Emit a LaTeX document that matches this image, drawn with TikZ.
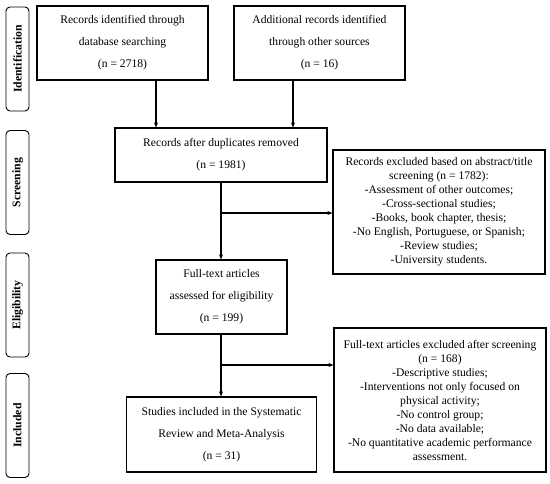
\documentclass[tikz,border=0pt]{standalone}
\usepackage{fontspec}
\setmainfont{Liberation Serif}
\usetikzlibrary{arrows.meta}
\begin{document}
\begin{tikzpicture}[x=1pt,y=-1pt,
  box/.style={draw,line width=1.2pt,align=center,inner sep=2pt,font=\fontsize{11.6}{22}\selectfont},
  exbox/.style={draw,line width=1.2pt,align=center,inner sep=2pt,font=\fontsize{11.6}{14}\selectfont},
  side/.style={draw,line width=0.9pt,rounded corners=4pt,minimum width=104pt,minimum height=23pt,rotate=90,font=\fontsize{11.7}{13}\selectfont\bfseries},
  arr/.style={line width=1.1pt,-{Stealth[length=5pt,width=4pt]}}]
\useasboundingbox (0,0) rectangle (550,484);
% side labels
\node[side] (s1) at (17.5,59) {Identification};
\node[side] (s2) at (17.5,182.5) {Screening};
\node[side] (s3) at (17.5,305) {Eligibility};
\node[side] (s4) at (17.5,425.5) {Included};
% main boxes
\node[box,minimum width=171pt,minimum height=74pt] (b1) at (122.5,43) {Records identified through\\database searching\\(n = 2718)};
\node[box,minimum width=171pt,minimum height=74pt] (b2) at (319.5,43) {Additional records identified\\through other sources\\(n = 16)};
\node[box,minimum width=212pt,minimum height=54pt] (b3) at (221,155) {Records after duplicates removed\\(n = 1981)};
\node[box,minimum width=131pt,minimum height=74pt] (b4) at (221.5,297) {Full-text articles\\assessed for eligibility\\(n = 199)};
\node[box,minimum width=190pt,minimum height=75pt] (b6) at (221.5,434.5) {Studies included in the Systematic\\Review and Meta-Analysis\\(n = 31)};
\node[exbox,minimum width=212pt,minimum height=124pt] (b5) at (439,212) {Records excluded based on abstract/title\\screening (n = 1782):\\-Assessment of other outcomes;\\-Cross-sectional studies;\\-Books, book chapter, thesis;\\-No English, Portuguese, or Spanish;\\-Review studies;\\-University students.};
\node[exbox,minimum width=212pt,minimum height=144pt] (b7) at (440,400) {Full-text articles excluded after screening\\(n = 168)\\-Descriptive studies;\\-Interventions not only focused on\\physical activity;\\-No control group;\\-No data available;\\-No quantitative academic performance\\assessment.};
% connectors
\coordinate (c1) at (156,0);
\coordinate (c2) at (293,0);
\coordinate (c3) at (221,213);
\coordinate (c4) at (221,365);
\draw[arr] (c1 |- b1.south) -- (c1 |- b3.north);
\draw[arr] (c2 |- b2.south) -- (c2 |- b3.north);
\draw[arr] (c3 |- b3.south) -- (c3 |- b4.north);
\draw[arr] (c3) -- (b5.west |- c3);
\draw[arr] (c4 |- b4.south) -- (c4 |- b6.north);
\draw[arr] (c4) -- (b7.west |- c4);
\end{tikzpicture}
\end{document}
